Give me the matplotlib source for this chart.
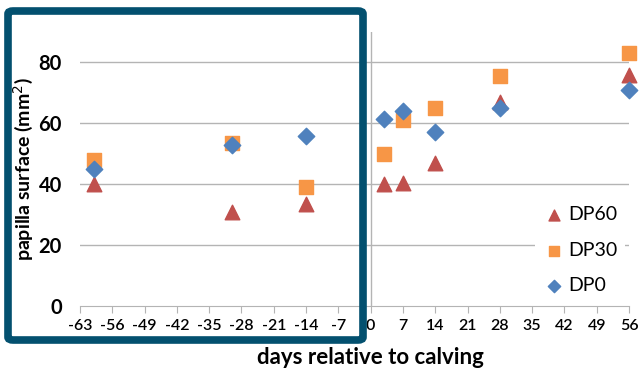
import matplotlib.pyplot as plt
from matplotlib.patches import FancyBboxPatch

days = [-60, -30, -14, 3, 7, 14, 28, 56]
dp60 = [40, 31, 33.5, 40, 40.5, 47, 67, 76]
dp30 = [48, 53.5, 39, 50, 61, 65, 75.5, 83]
dp0 = [45, 53, 56, 61.5, 64, 57, 65, 71]

xticks = list(range(-63, 57, 7))
yticks = [0, 20, 40, 60, 80]

plt.rcParams['font.family'] = ['Lato', 'DejaVu Sans']

fig = plt.figure(figsize=(6.43, 3.69), dpi=100)
ax = fig.add_axes([80 / 643, 1 - 306 / 369, 549 / 643, 274 / 369])

ax.set_xlim(-63, 56)
ax.set_ylim(0, 90)

for y in yticks[1:]:
    ax.axhline(y, color='#b4b4b4', lw=1, zorder=0)
ax.axvline(0, color='#b4b4b4', lw=1, zorder=0)

ax.scatter(days, dp60, marker='^', s=110, color='#c0504d', label='DP60', zorder=3, clip_on=False)
ax.scatter(days, dp30, marker='s', s=110, color='#f79646', label='DP30', zorder=3, clip_on=False)
ax.scatter(days, dp0, marker='D', s=70, color='#4f81bd', label='DP0', zorder=4, clip_on=False)

for s in ['top', 'right', 'left']:
    ax.spines[s].set_visible(False)
ax.spines['bottom'].set_color('#b4b4b4')

ax.set_xticks(xticks)
ax.set_xticklabels([str(t) for t in xticks], fontsize=11.5, fontweight='semibold')
ax.tick_params(axis='x', length=5, color='#b4b4b4', pad=4)
ax.set_yticks(yticks)
ax.set_yticklabels([str(t) for t in yticks], fontsize=14.5, fontweight='bold')
ax.tick_params(axis='y', length=0, pad=13)

ax.set_xlabel('days relative to calving', fontsize=16, fontweight='bold')
ax.xaxis.set_label_coords(63 / 119, -0.15)
ax.set_ylabel('papilla surface (mm$^2$)', fontsize=14, fontweight='bold')
ax.yaxis.set_label_coords(-0.082, 0.5)

leg = ax.legend(loc='lower right', fontsize=14, frameon=True, facecolor='white',
                edgecolor='none', framealpha=1, handletextpad=0.1, markerscale=0.75,
                borderaxespad=0.2, labelspacing=0.95, handlelength=1.2)

box = FancyBboxPatch((8 / 643, 1 - 340 / 369), 355 / 643, 329 / 369,
                     boxstyle='round,pad=0,rounding_size=0.008',
                     transform=fig.transFigure, fill=False,
                     edgecolor='#03506f', lw=5.5, zorder=10)
fig.patches.append(box)

fig.savefig('out.png', dpi=100)
